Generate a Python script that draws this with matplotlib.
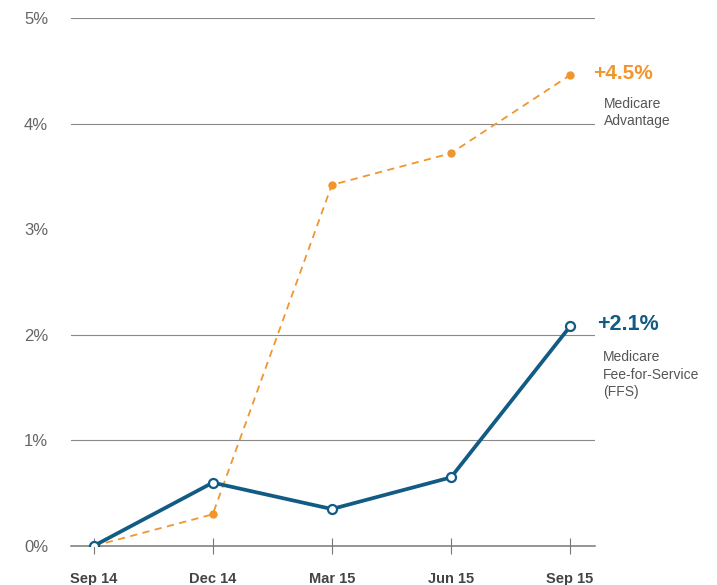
import matplotlib.pyplot as plt

# quarterly change since Sep 14, in percent
quarters = ['Sep 14', 'Dec 14', 'Mar 15', 'Jun 15', 'Sep 15']
advantage = [0.0, 0.30, 3.42, 3.72, 4.46]
ffs = [0.0, 0.60, 0.35, 0.65, 2.08]
grid_levels = [1, 2, 4, 5]
ytick_vals = [0, 1, 2, 3, 4, 5]
ytick_labels = ['0%', '1%', '2%', '3%', '4%', '5%']

orange = '#F0962E'
blue = '#125B85'

plt.rcParams['font.family'] = ['Liberation Sans', 'DejaVu Sans']

fig = plt.figure(figsize=(7.17, 5.85), dpi=100)
ax = fig.add_axes([0.099, 0.0667, 0.731, 0.9023])

x = list(range(len(quarters)))

for g in grid_levels:
    ax.axhline(g, color='#8a8a8a', lw=0.8, zorder=1)

ax.plot(x, advantage, color=orange, lw=1.3, ls=(0, (4, 3)), zorder=2)
ax.plot(x[1:], advantage[1:], 'o', color=orange, ms=5, zorder=3)
ax.plot(x, ffs, color=blue, lw=2.7, marker='o', ms=6.5,
        mfc='white', mec=blue, mew=1.6, zorder=4)

ax.set_xlim(-0.19, 4.21)
ax.set_ylim(0, 5)

for s in ['top', 'right', 'left']:
    ax.spines[s].set_visible(False)
ax.spines['bottom'].set_color('#777777')
ax.spines['bottom'].set_linewidth(1.1)

ax.set_xticks(x)
ax.set_xticklabels(quarters, fontsize=10.5, fontweight='bold', color='#444444')
ax.tick_params(axis='x', direction='inout', length=11.5, width=0.8,
               color='#777777', pad=13)
ax.set_yticks(ytick_vals)
ax.set_yticklabels(ytick_labels, fontsize=12, color='#666666')
ax.tick_params(axis='y', length=0, pad=15)
for lab in ax.get_yticklabels():
    lab.set_horizontalalignment('left')
    lab.set_x(-0.0497)

# end labels
ax.annotate('+4.5%', xy=(4, advantage[-1]), xytext=(23, 2),
            textcoords='offset pixels', fontsize=15, fontweight='bold',
            color=orange, va='center', ha='left')
ax.annotate('Medicare\nAdvantage', xy=(4, advantage[-1]), xytext=(34, -22),
            textcoords='offset pixels', fontsize=10, color='#555555',
            va='top', ha='left', linespacing=1.3)
ax.annotate('+2.1%', xy=(4, ffs[-1]), xytext=(27, 2),
            textcoords='offset pixels', fontsize=15.5, fontweight='bold',
            color=blue, va='center', ha='left')
ax.annotate('Medicare\nFee-for-Service\n(FFS)', xy=(4, ffs[-1]), xytext=(33, -24),
            textcoords='offset pixels', fontsize=10, color='#555555',
            va='top', ha='left', linespacing=1.3)

fig.savefig('out.png', dpi=100)
